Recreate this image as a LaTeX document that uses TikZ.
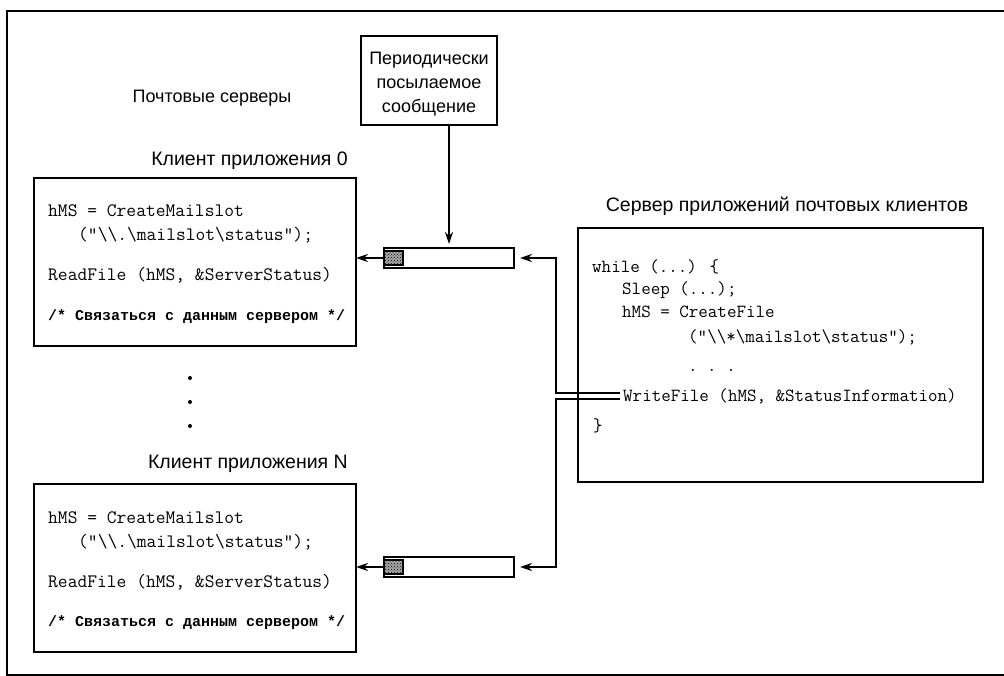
\documentclass[tikz,border=0pt]{standalone}
\usepackage{fontspec}
\newfontfamily\lsans{Liberation Sans}
\newfontfamily\cmono{Liberation Mono}
\usetikzlibrary{arrows.meta,patterns}
\newcommand{\BSL}{\textbackslash}
\begin{document}
\begin{tikzpicture}[x=1pt,y=-1pt,
  box/.style={draw, line width=2.8pt, inner sep=0pt, outer sep=0pt, anchor=north west},
  lbl/.style={font=\lsans\fontsize{19.5}{24}\selectfont, inner sep=0pt},
  msgfont/.style={font=\lsans\fontsize{18}{24}\selectfont, inner sep=0pt},
  code/.style={font=\ttfamily\fontsize{19}{22}\selectfont, inner sep=0pt, anchor=base west},
  scode/.style={font=\ttfamily\fontsize{18.5}{22}\selectfont, inner sep=0pt, anchor=base west},
  cyr/.style={font=\cmono\bfseries\fontsize{15}{18}\selectfont, inner sep=0pt, anchor=base west},
  conn/.style={line width=2.2pt},
  arr/.style={conn, -{Stealth[length=12pt,width=8pt]}},
  shade/.style={draw, line width=1.8pt, preaction={fill=black!35}, pattern=crosshatch dots, pattern color=black, inner sep=0pt, outer sep=0pt, anchor=west, minimum width=19pt, minimum height=14pt}
]
\useasboundingbox (0,0) rectangle (1004,676);
% frame
\draw[line width=1.6pt] (1004,11) -- (7,11) -- (7,675) -- (1004,675);

% title left
\node[lbl, font=\lsans\fontsize{18}{24}\selectfont, anchor=base] (servers) at (212,103) {Почтовые серверы};

% periodic message box
\node[box, minimum width=136pt, minimum height=89pt] (msg) at (361,36) {};
\node[msgfont, align=center, anchor=center] (msgtxt) at (429,84) {Периодически\\посылаемое\\сообщение};

% client 0
\node[lbl, anchor=base east] (c0lbl) at (348,166) {Клиент приложения 0};
\node[box, minimum width=322pt, minimum height=168pt] (b1) at (34,178) {};
\node[code] (b1l1) at (48,217) {hMS = CreateMailslot};
\node[code] (b1l2) at (78,241) {("\BSL\BSL.\BSL mailslot\BSL status");};
\node[code] (b1l3) at (48,281) {ReadFile (hMS, \&ServerStatus)};
\node[cyr] (b1l4) at (48,320) {/* Связаться с данным сервером */};

% dots
\fill (190,378) circle (2pt);
\fill (190,402) circle (2pt);
\fill (190,426) circle (2pt);

% client N
\node[lbl, anchor=base east] (cNlbl) at (348,468) {Клиент приложения N};
\node[box, minimum width=322pt, minimum height=168pt] (b2) at (34,484) {};
\node[code] (b2l1) at (48,523) {hMS = CreateMailslot};
\node[code] (b2l2) at (78,547) {("\BSL\BSL.\BSL mailslot\BSL status");};
\node[code] (b2l3) at (48,587) {ReadFile (hMS, \&ServerStatus)};
\node[cyr] (b2l4) at (48,626) {/* Связаться с данным сервером */};

% mailslot bars
\node[box, minimum width=130pt, minimum height=20pt] (bar1) at (384,248) {};
\node[shade] (sq1) at (bar1.west) {};
\node[box, minimum width=130pt, minimum height=20pt] (bar2) at (384,557) {};
\node[shade] (sq2) at (bar2.west) {};

% server
\node[lbl, anchor=base] (srvlbl) at (787,212) {Сервер приложений почтовых клиентов};
\node[box, minimum width=405pt, minimum height=254pt] (srv) at (578,228) {};
\node[scode] (s1) at (592,273) {while (...) \{};
\node[scode] (s2) at (622,295) {Sleep (...);};
\node[scode] (s3) at (622,318) {hMS = CreateFile};
\node[scode] (s4) at (688,342) {("\BSL\BSL*\BSL mailslot\BSL status");};
\node[scode] (s5) at (688,371) {.\ .\ .};
\node[scode] (wf) at (623,401) {WriteFile (hMS, \&StatusInformation)};
\node[scode] (s7) at (593,431) {\}};

% connectors
\coordinate (wa) at (620,393);
\coordinate (wb) at (620,399);
\coordinate (ja) at (556,393);
\coordinate (jb) at (556,399);
\draw[arr, shorten >=4pt] (bar1.north |- msg.south) -- (bar1.north);
\draw[arr] (bar1.west) -- (bar1.west -| b1.east);
\draw[arr] (bar2.west) -- (bar2.west -| b2.east);
\draw[arr, shorten >=6pt] (wa) -- (ja) |- (bar1.east);
\draw[arr, shorten >=6pt] (wb) -- (jb) |- (bar2.east);
\end{tikzpicture}
\end{document}
